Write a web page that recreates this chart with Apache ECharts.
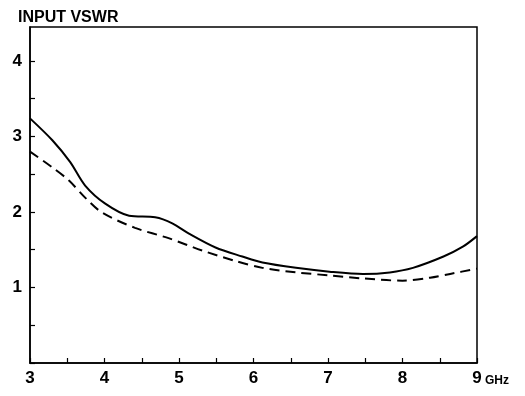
<!DOCTYPE html>
<html><head><meta charset="utf-8">
<script src="https://cdn.jsdelivr.net/npm/echarts@6/dist/echarts.min.js"></script>
<style>html,body{margin:0;padding:0;background:#fff}#c{width:525px;height:396px}</style>
</head><body><div id="c"></div>
<script>
var solidX = [3.0, 3.3, 3.54, 3.74, 4.01, 4.33, 4.68, 4.91, 5.14, 5.49, 5.85, 6.12, 6.57, 7.02, 7.47, 7.83, 8.14, 8.55, 8.81, 9.0];
var solidY = [3.24, 2.95, 2.66, 2.35, 2.11, 1.95, 1.93, 1.85, 1.71, 1.53, 1.41, 1.33, 1.26, 1.21, 1.18, 1.2, 1.26, 1.41, 1.54, 1.68];
var dashX = [3.0, 3.3, 3.52, 3.74, 3.97, 4.41, 4.87, 5.31, 5.76, 6.12, 6.57, 7.02, 7.47, 8.0, 8.37, 8.64, 9.0];
var dashY = [2.8, 2.59, 2.42, 2.19, 1.99, 1.79, 1.65, 1.49, 1.35, 1.26, 1.2, 1.16, 1.12, 1.09, 1.13, 1.18, 1.25];
var xTickLabels = ['3', '4', '5', '6', '7', '8', '9'];
var yTickLabels = ['1', '2', '3', '4'];
var yTitle = 'INPUT VSWR';
var xUnit = 'GHz';

function pairs(xs, ys) { return xs.map(function (x, i) { return [x, ys[i]]; }); }

var font = 'Liberation Sans';
var chart = echarts.init(document.getElementById('c'));
chart.setOption({
  animation: false,
  backgroundColor: '#fff',
  title: {
    text: yTitle, left: 13, top: 5,
    textStyle: { fontFamily: font, fontWeight: 'bold', fontSize: 16, color: '#000' }
  },
  grid: { left: 30, right: 48, top: 27, bottom: 33, show: true, borderColor: '#000', borderWidth: 1.5 },
  xAxis: {
    type: 'value', min: 3, max: 9, interval: 0.5,
    axisLine: { lineStyle: { color: '#000', width: 1.5 } },
    axisTick: { inside: true, length: 5, lineStyle: { color: '#000', width: 1.2 } },
    splitLine: { show: false },
    axisLabel: {
      margin: 7, color: '#000', fontFamily: font, fontWeight: 'bold', fontSize: 17,
      formatter: function (v) { var s = String(v); return xTickLabels.indexOf(s) >= 0 ? s : ''; }
    }
  },
  yAxis: {
    type: 'value', min: 0, max: 4.45, interval: 0.5,
    axisLine: { lineStyle: { color: '#000', width: 1.5 } },
    axisTick: { inside: true, length: 5, lineStyle: { color: '#000', width: 1.2 } },
    splitLine: { show: false },
    axisLabel: {
      margin: 8, color: '#000', fontFamily: font, fontWeight: 'bold', fontSize: 17,
      showMaxLabel: false,
      formatter: function (v) { var s = String(v); return yTickLabels.indexOf(s) >= 0 ? s : ''; }
    }
  },
  graphic: [{
    type: 'text', left: 485, top: 375,
    style: { text: xUnit, fontFamily: font, fontWeight: 'bold', fontSize: 12, fill: '#000' }
  }],
  series: [
    { type: 'line', data: pairs(solidX, solidY), smooth: 0.3, symbol: 'none',
      lineStyle: { color: '#000', width: 2 } },
    { type: 'line', data: pairs(dashX, dashY), smooth: 0.3, symbol: 'none',
      lineStyle: { color: '#000', width: 2, type: [10, 6] } }
  ]
});
</script></body></html>
